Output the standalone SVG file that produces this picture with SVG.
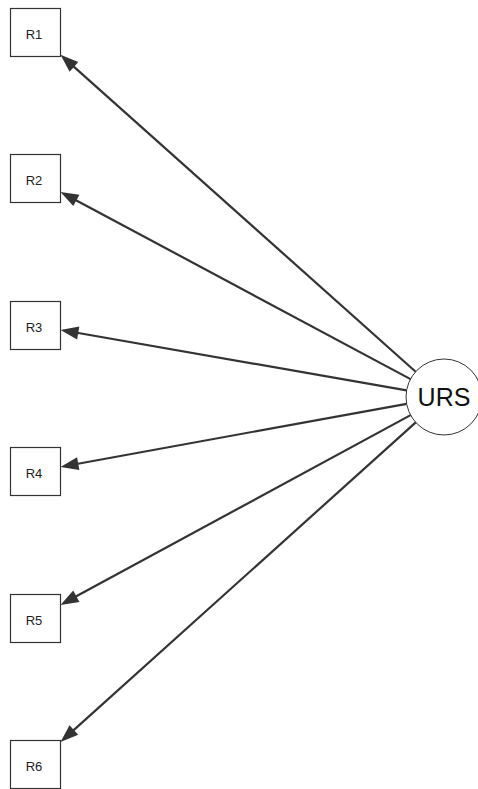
<svg xmlns="http://www.w3.org/2000/svg" width="478" height="789" viewBox="0 0 478 789">
<style>
.box{fill:#fff;stroke:#333;stroke-width:1.2}
.lbl{font-family:"Liberation Sans",Arial,sans-serif;font-size:13px;fill:#222;text-anchor:middle}
.big{font-family:"Liberation Sans",Arial,sans-serif;font-size:25px;fill:#111;text-anchor:middle}
.edge{stroke:#333;stroke-width:2.2;fill:none;marker-end:url(#ah)}
</style>
<defs>
<marker id="ah" markerUnits="userSpaceOnUse" markerWidth="22" markerHeight="16" viewBox="-11 -8 22 16" refX="0" refY="0" orient="auto" overflow="visible">
<path d="M-10,-6.5 L8,0 L-10,6.5 z" fill="#333"/>
</marker>
</defs>
<rect width="478" height="789" fill="#fff"/>
<g id="connectors">
<line class="edge" x1="415.65" y1="371.7" x2="66.47" y2="60.13"/>
<line class="edge" x1="410.5" y1="379.1" x2="67.55" y2="195.67"/>
<line class="edge" x1="406.6" y1="390.4" x2="68.38" y2="331.28"/>
<line class="edge" x1="406.6" y1="403.8" x2="68.37" y2="465.46"/>
<line class="edge" x1="410.6" y1="415.1" x2="67.53" y2="601.09"/>
<line class="edge" x1="415.75" y1="422.4" x2="66.45" y2="736.65"/>
</g>
<g id="R1"><rect class="box" x="10.5" y="8.5" width="50" height="48"/><text class="lbl" x="34" y="39">R1</text></g>
<g id="R2"><rect class="box" x="10.5" y="154.5" width="50" height="48"/><text class="lbl" x="34" y="185">R2</text></g>
<g id="R3"><rect class="box" x="10.5" y="301.5" width="50" height="48"/><text class="lbl" x="34" y="332">R3</text></g>
<g id="R4"><rect class="box" x="10.5" y="447.5" width="50" height="48"/><text class="lbl" x="34" y="478">R4</text></g>
<g id="R5"><rect class="box" x="10.5" y="594.5" width="50" height="48"/><text class="lbl" x="34" y="625">R5</text></g>
<g id="R6"><rect class="box" x="10.5" y="740.5" width="50" height="48"/><text class="lbl" x="34" y="771">R6</text></g>
<g id="URS"><circle cx="444" cy="397" r="38" fill="#fff" stroke="#333" stroke-width="1"/><text class="big" x="444" y="406">URS</text></g>
</svg>
